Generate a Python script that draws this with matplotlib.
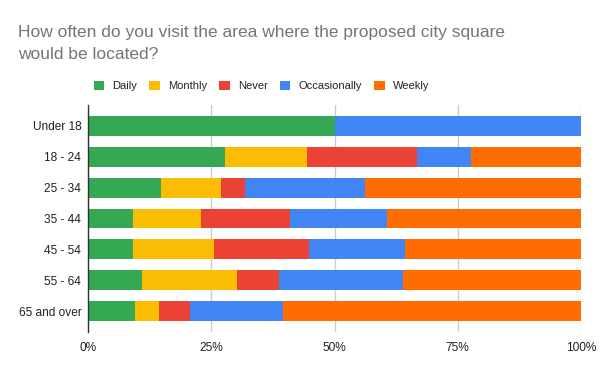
import matplotlib
matplotlib.use("Agg")
import matplotlib.pyplot as plt
from matplotlib.patches import Patch
from matplotlib.ticker import FuncFormatter
import numpy as np

plt.rcParams['font.family'] = ['Liberation Sans', 'DejaVu Sans']

categories = ["Under 18", "18 - 24", "25 - 34", "35 - 44", "45 - 54", "55 - 64", "65 and over"]
series_names = ["Daily", "Monthly", "Never", "Occasionally", "Weekly"]
daily = [50.0, 27.8, 14.7, 9.1, 9.1, 10.9, 9.5]
monthly = [0.0, 16.7, 12.2, 13.8, 16.4, 19.3, 4.8]
never = [0.0, 22.2, 4.9, 18.0, 19.3, 8.5, 6.3]
occasionally = [50.0, 11.1, 24.4, 19.7, 19.5, 25.2, 19.0]
weekly = [0.0, 22.2, 43.8, 39.4, 35.7, 36.1, 60.4]
colors = ["#34A853", "#FBBC04", "#EA4335", "#4285F4", "#FF6D01"]
xticks = [0, 25, 50, 75, 100]

fig = plt.figure(figsize=(6, 3.71), dpi=100)
ax = fig.add_axes([0.147, 0.105, 0.821, 0.612])

y = np.arange(len(categories))
left = np.zeros(len(categories))
for name, vals, c in zip(series_names, [daily, monthly, never, occasionally, weekly], colors):
    v = np.array(vals)
    ax.barh(y, v, left=left, height=0.645, color=c, zorder=3, linewidth=0)
    left += v

ax.set_ylim(len(categories) - 0.33, -0.67)
ax.set_xlim(0, 100)
ax.set_yticks(y)
ax.set_yticklabels(categories)
ax.set_xticks(xticks)
ax.xaxis.set_major_formatter(FuncFormatter(lambda v, p: f"{int(v)}%"))
ax.tick_params(axis='both', length=0, labelsize=8.6, colors='#222222')
ax.tick_params(axis='y', pad=5)
ax.tick_params(axis='x', pad=7)
ax.grid(axis='x', color='#cccccc', linewidth=1, zorder=0)
for s in ['top', 'right', 'bottom']:
    ax.spines[s].set_visible(False)
ax.spines['left'].set_color('#333333')
ax.spines['left'].set_linewidth(1)
ax.spines['left'].set_zorder(4)

fig.text(18 / 600, 1 - 25 / 371,
         "How often do you visit the area where the proposed city square\nwould be located?",
         ha='left', va='top', fontsize=12.5, color='#757575', linespacing=1.6)

handles = [Patch(facecolor=c, edgecolor='none') for c in colors]
fig.legend(handles, series_names, loc='center', bbox_to_anchor=(261.5 / 600, 1 - 86 / 371),
           ncol=5, frameon=False, fontsize=8.0, handlelength=0.95, handleheight=0.95,
           handletextpad=0.72, columnspacing=1.1, labelcolor='#222222')

fig.savefig("out.png", dpi=100)
